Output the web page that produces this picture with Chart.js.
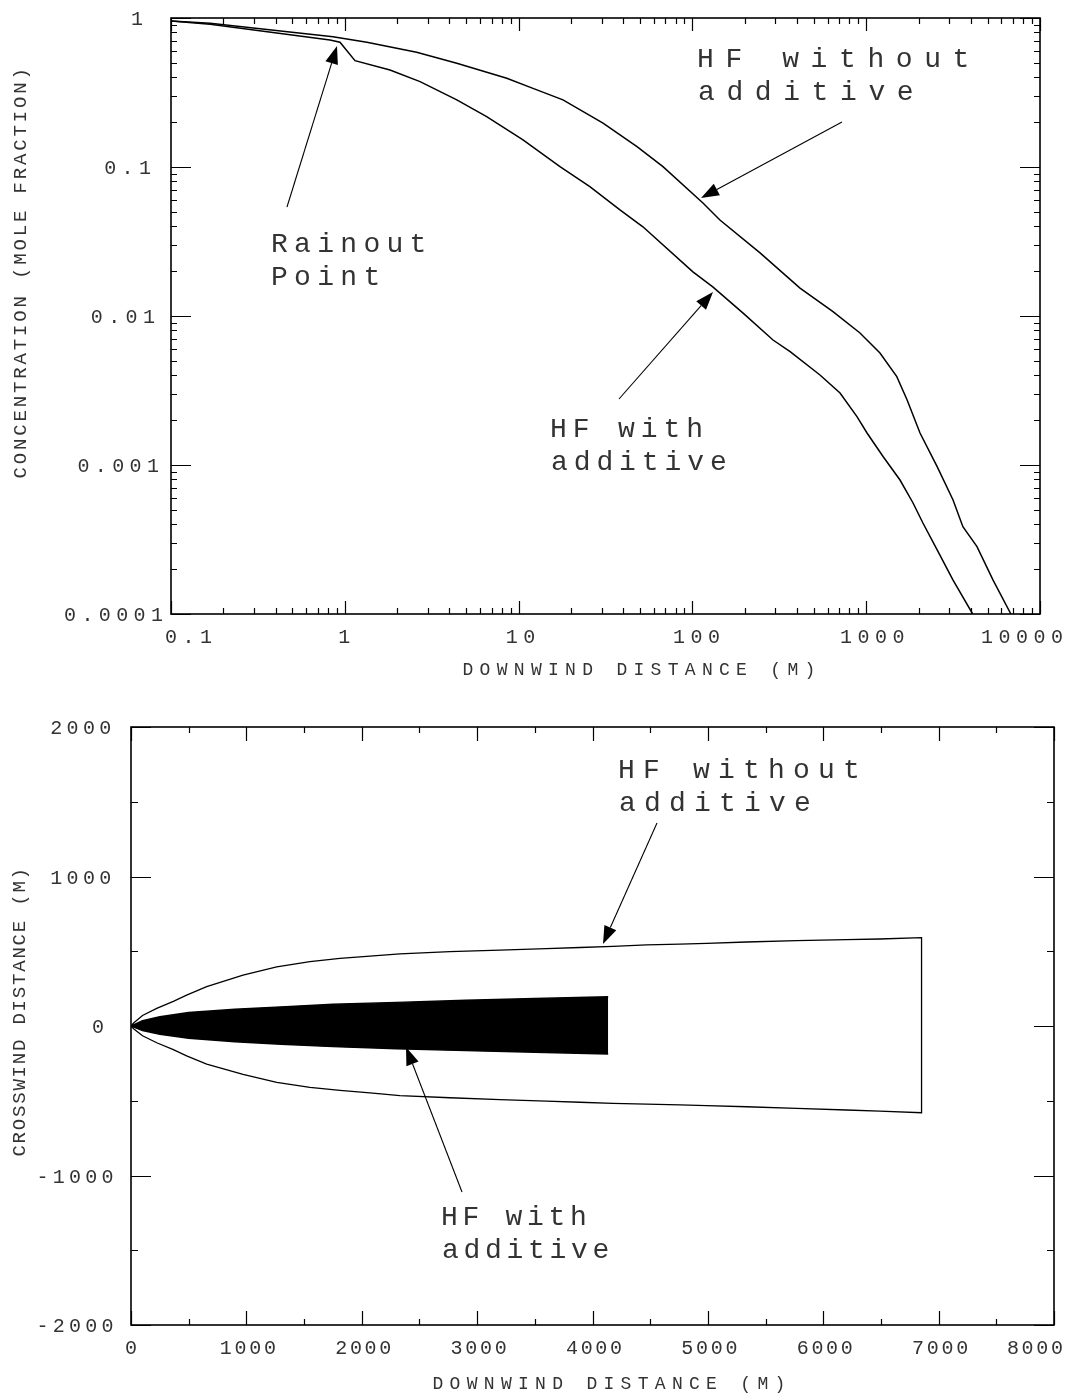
<!DOCTYPE html>
<html>
<head>
<meta charset="utf-8">
<script src="https://cdn.jsdelivr.net/npm/chart.js@4.4.0/dist/chart.umd.min.js"></script>
<style>
html, body { margin: 0; padding: 0; background: #fff; }
#wrap { position: relative; width: 1069px; height: 1395px; }
#top { position: absolute; left: 0; top: 0; }
#bot { position: absolute; left: 0; top: 700px; }
</style>
</head>
<body>
<div id="wrap">
  <canvas id="top" width="1069" height="700" style="width:1069px;height:700px"></canvas>
  <canvas id="bot" width="1069" height="695" style="width:1069px;height:695px"></canvas>
</div>
<script>
// ---- top chart: concentration vs downwind distance (log-log) ----
const distNoAdd = [0.1, 0.168, 0.855, 1.34, 2.59, 4.41, 8.55, 12.1, 18.0, 30.6, 48.0, 67.7, 115, 144, 245, 416, 644, 921, 1200, 1500, 1720, 2040, 2560, 3160, 3600, 4340, 5370, 6800];
const concNoAdd = [0.955, 0.921, 0.749, 0.687, 0.589, 0.497, 0.394, 0.337, 0.282, 0.197, 0.137, 0.1005, 0.0574, 0.0441, 0.0265, 0.0154, 0.0107, 0.00769, 0.00565, 0.00392, 0.00273, 0.00164, 0.000975, 0.000582, 0.000385, 0.000283, 0.000169, 0.0001];
const distAdd = [0.1, 0.168, 0.822, 0.938, 1.145, 1.82, 2.71, 4.41, 6.55, 10.6, 17.3, 25.7, 38.3, 51.9, 100.7, 131, 195, 291, 365, 542, 707, 885, 1011, 1250, 1565, 1860, 2120, 2560, 3160, 4100];
const concAdd = [0.955, 0.907, 0.712, 0.687, 0.517, 0.448, 0.374, 0.282, 0.218, 0.152, 0.1005, 0.0738, 0.0515, 0.0397, 0.0198, 0.0157, 0.0105, 0.0069, 0.00576, 0.00402, 0.00304, 0.00211, 0.00164, 0.00114, 0.000793, 0.000556, 0.000408, 0.000269, 0.000169, 0.0001];

const distTicks = [0.1, 1, 10, 100, 1000, 10000];
const distTickLabels = ['0.1', '1', '10', '100', '1000', '10000'];
const concTicks = [0.0001, 0.001, 0.01, 0.1, 1];
const concTickLabels = ['0.0001', '0.001', '0.01', '0.1', '1'];

// ---- bottom chart: plume footprint ----
const plumeX = [0, 25, 100, 223, 367, 482, 656, 971, 1263, 1551, 1811, 2071, 2331, 2764, 3198, 3600, 3891, 4177, 4469, 4757, 4989, 5335, 5769, 6202, 6490, 6852];
const plumeUp = [0, 22, 70, 118, 165, 207, 263, 341, 396, 430, 453, 468, 482, 497, 508, 518, 525, 532, 542, 547, 553, 562, 571, 578, 582, 591];
const plumeDown = [0, -20, -65, -112, -158, -200, -255, -323, -377, -410, -430, -448, -466, -480, -492, -502, -510, -517, -522, -528, -533, -540, -551, -562, -570, -580];
const coreX = [0, 100, 250, 500, 900, 1300, 1750, 2300, 2900, 3500, 4136];
const coreUp = [0, 35, 62, 90, 112, 128, 145, 158, 172, 184, 196];
const coreDown = [0, -30, -55, -82, -105, -122, -138, -152, -165, -176, -187];

const downTicks = [0, 1000, 2000, 3000, 4000, 5000, 6000, 7000, 8000];
const downTickLabels = ['0', '1000', '2000', '3000', '4000', '5000', '6000', '7000', '8000'];
const crossTicks = [-2000, -1000, 0, 1000, 2000];
const crossTickLabels = ['-2000', '-1000', '0', '1000', '2000'];

const FONT = '"Liberation Mono", "DejaVu Sans Mono", monospace';
const LINE = '#000';
const TEXT = '#333';

function drawText(ctx, str, x, y, f, align) {
    ctx.save();
    ctx.font = f.size + 'px ' + FONT;
    ctx.letterSpacing = f.space + 'px';
    ctx.fillStyle = TEXT;
    ctx.textAlign = 'left';
    ctx.textBaseline = 'alphabetic';
    const m = ctx.measureText(str);
    const w = m.actualBoundingBoxRight + m.actualBoundingBoxLeft;
    let left = x;
    if (align === 'right') left = x - w;
    if (align === 'center') left = x - w / 2;
    ctx.fillText(str, left + m.actualBoundingBoxLeft, y);
    ctx.restore();
}

function inkWidth(ctx, str, f) {
    ctx.save();
    ctx.font = f.size + 'px ' + FONT;
    ctx.letterSpacing = f.space + 'px';
    const m = ctx.measureText(str);
    ctx.restore();
    return m.actualBoundingBoxRight + m.actualBoundingBoxLeft;
}

function drawVertical(ctx, str, bx, cy, f) {
    ctx.save();
    ctx.translate(bx, cy);
    ctx.rotate(-Math.PI / 2);
    drawText(ctx, str, 0, 0, f, 'center');
    ctx.restore();
}

function arrow(ctx, x1, y1, x2, y2) {
    const ang = Math.atan2(y2 - y1, x2 - x1), L = 18, W = 6.5;
    const bx = x2 - L * Math.cos(ang), by = y2 - L * Math.sin(ang);
    ctx.save();
    ctx.strokeStyle = LINE;
    ctx.fillStyle = LINE;
    ctx.lineWidth = 1.1;
    ctx.beginPath();
    ctx.moveTo(x1, y1);
    ctx.lineTo(bx, by);
    ctx.stroke();
    ctx.beginPath();
    ctx.moveTo(x2, y2);
    ctx.lineTo(bx - W * Math.sin(ang), by + W * Math.cos(ang));
    ctx.lineTo(bx + W * Math.sin(ang), by - W * Math.cos(ang));
    ctx.closePath();
    ctx.fill();
    ctx.restore();
}

// frame, inward ticks, tick labels, titles and notes
function makeFrame(cfg) {
    return {
        id: 'frame',
        afterDraw(chart) {
            const ctx = chart.ctx, a = chart.chartArea;
            const xs = chart.scales.x, ys = chart.scales.y;
            ctx.save();
            ctx.strokeStyle = LINE;
            ctx.lineWidth = 1.2;
            ctx.beginPath();
            const xt = (vals, len) => vals.forEach(v => {
                const p = Math.round(xs.getPixelForValue(v)) + 0.5;
                ctx.moveTo(p, a.bottom); ctx.lineTo(p, a.bottom - len);
                ctx.moveTo(p, a.top); ctx.lineTo(p, a.top + len);
            });
            const yt = (vals, len) => vals.forEach(v => {
                const p = Math.round(ys.getPixelForValue(v)) + 0.5;
                ctx.moveTo(a.left, p); ctx.lineTo(a.left + len, p);
                ctx.moveTo(a.right, p); ctx.lineTo(a.right - len, p);
            });
            xt(cfg.xMajor, cfg.len[0]);
            xt(cfg.xMinor, cfg.len[1]);
            yt(cfg.yMajor, cfg.len[2]);
            yt(cfg.yMinor, cfg.len[3]);
            ctx.stroke();
            ctx.lineWidth = 1.6;
            ctx.strokeRect(a.left, a.top, a.right - a.left, a.bottom - a.top);
            ctx.restore();

            cfg.xMajor.forEach((v, i) => {
                const s = cfg.xLabels[i];
                const w = inkWidth(ctx, s, cfg.xTickFont);
                let left = xs.getPixelForValue(v) + (s.length - 1) * cfg.xShift - w / 2;
                if (left < a.left + cfg.leftClamp) left = a.left + cfg.leftClamp;
                if (left + w > 1062) left = 1062 - w;
                drawText(ctx, s, left, a.bottom + 29, cfg.xTickFont, 'left');
            });
            cfg.yMajor.forEach((v, i) => {
                const s = cfg.yLabels[i];
                drawText(ctx, s, cfg.yRight + (s.length - 1) * cfg.yShift, ys.getPixelForValue(v) + 7, cfg.yTickFont, 'right');
            });
            drawText(ctx, cfg.xTitle[0], cfg.xTitle[1], cfg.xTitle[2], cfg.xTitleFont, 'center');
            drawVertical(ctx, cfg.yTitle[0], cfg.yTitle[1], cfg.yTitle[2], cfg.yTitleFont);
            cfg.notes.forEach(n => drawText(ctx, n[0], n[1], n[2], n[3], 'left'));
            cfg.arrows.forEach(r => arrow(ctx, r[0], r[1], r[2], r[3]));
        }
    };
}

function minorLog(from, to) {
    const out = [];
    for (let d = from; d < to * 0.999; d *= 10) {
        for (let k = 2; k <= 9; k++) out.push(d * k);
    }
    return out;
}

const rainFont = { size: 28, space: 6.3 };
const topWithout = { size: 28, space: 11.6 };
const topWith = { size: 28, space: 5.9 };
const botWithout = { size: 28, space: 8.2 };
const botWith = { size: 28, space: 4.7 };

new Chart(document.getElementById('top'), {
    type: 'scatter',
    data: {
        datasets: [{
            label: 'HF without additive',
            data: distNoAdd.map((x, i) => ({ x: x, y: concNoAdd[i] })),
            showLine: true,
            borderColor: LINE,
            borderWidth: 1.5,
            pointRadius: 0,
            fill: false
        }, {
            label: 'HF with additive',
            data: distAdd.map((x, i) => ({ x: x, y: concAdd[i] })),
            showLine: true,
            borderColor: LINE,
            borderWidth: 1.5,
            pointRadius: 0,
            fill: false
        }]
    },
    options: {
        responsive: false,
        animation: false,
        layout: { padding: { left: 171, right: 29, top: 18, bottom: 86 } },
        plugins: { legend: { display: false }, tooltip: { enabled: false } },
        scales: {
            x: {
                type: 'logarithmic', min: 0.1, max: 10000,
                grid: { display: false, drawTicks: false },
                ticks: { display: false },
                border: { display: false },
                afterFit: s => { s.height = 0; }
            },
            y: {
                type: 'logarithmic', min: 0.0001, max: 1,
                grid: { display: false, drawTicks: false },
                ticks: { display: false },
                border: { display: false },
                afterFit: s => { s.width = 0; }
            }
        }
    },
    plugins: [makeFrame({
        xMajor: distTicks, xMinor: minorLog(0.1, 10000),
        yMajor: concTicks, yMinor: minorLog(0.0001, 1),
        len: [13, 6, 20, 6],
        xLabels: distTickLabels, yLabels: concTickLabels,
        xTickFont: { size: 20, space: 5.5 }, yTickFont: { size: 20, space: 5.4 },
        xShift: 2, leftClamp: -5, yRight: 143, yShift: 4,
        xTitle: ['DOWNWIND DISTANCE (M)', 638, 675], xTitleFont: { size: 18, space: 6.3 },
        yTitle: ['CONCENTRATION (MOLE FRACTION)', 26, 274], yTitleFont: { size: 19, space: 2.85 },
        notes: [['Rainout', 273, 252, rainFont], ['Point', 273, 285, rainFont],
                ['HF without', 699, 67, topWithout], ['additive', 699, 100, topWithout],
                ['HF with', 552, 437, topWith], ['additive', 552, 470, topWith]],
        arrows: [[287, 207, 337, 46], [842, 122, 701, 198], [619, 399, 713, 292]]
    })]
});

const plumeLoop = plumeX.map((x, i) => ({ x: x, y: plumeUp[i] }))
    .concat(plumeX.map((x, i) => ({ x: x, y: plumeDown[i] })).reverse());

new Chart(document.getElementById('bot'), {
    type: 'scatter',
    data: {
        datasets: [{
            label: 'HF without additive',
            data: plumeLoop,
            showLine: true,
            borderColor: LINE,
            borderWidth: 1.3,
            pointRadius: 0,
            fill: false
        }, {
            label: 'HF with additive',
            data: coreX.map((x, i) => ({ x: x, y: coreUp[i] })),
            showLine: true,
            borderColor: LINE,
            backgroundColor: LINE,
            borderWidth: 1.4,
            pointRadius: 0,
            fill: '+1'
        }, {
            label: 'HF with additive (lower edge)',
            data: coreX.map((x, i) => ({ x: x, y: coreDown[i] })),
            showLine: true,
            borderColor: LINE,
            borderWidth: 1.4,
            pointRadius: 0,
            fill: false
        }]
    },
    options: {
        responsive: false,
        animation: false,
        layout: { padding: { left: 131, right: 15, top: 27, bottom: 70 } },
        plugins: { legend: { display: false }, tooltip: { enabled: false } },
        scales: {
            x: {
                type: 'linear', min: 0, max: 8000,
                grid: { display: false, drawTicks: false },
                ticks: { display: false },
                border: { display: false },
                afterFit: s => { s.height = 0; }
            },
            y: {
                type: 'linear', min: -2000, max: 2000,
                grid: { display: false, drawTicks: false },
                ticks: { display: false },
                border: { display: false },
                afterFit: s => { s.width = 0; }
            }
        }
    },
    plugins: [makeFrame({
        xMajor: downTicks, xMinor: [500, 1500, 2500, 3500, 4500, 5500, 6500, 7500],
        yMajor: crossTicks, yMinor: [-1500, -500, 500, 1500],
        len: [14, 6, 20, 7],
        xLabels: downTickLabels, yLabels: crossTickLabels,
        xTickFont: { size: 20, space: 2.7 }, yTickFont: { size: 20, space: 4.3 },
        xShift: 0.5, leftClamp: -6, yRight: 103, yShift: 2.4,
        xTitle: ['DOWNWIND DISTANCE (M)', 608, 689], xTitleFont: { size: 18, space: 6.3 },
        yTitle: ['CROSSWIND DISTANCE (M)', 25, 313], yTitleFont: { size: 19, space: 1.8 },
        notes: [['HF without', 620, 78, botWithout], ['additive', 620, 111, botWithout],
                ['HF with', 443, 525, botWith], ['additive', 443, 558, botWith]],
        arrows: [[657, 123, 603, 244], [462, 492, 406, 347]]
    })]
});
</script>
</body>
</html>
